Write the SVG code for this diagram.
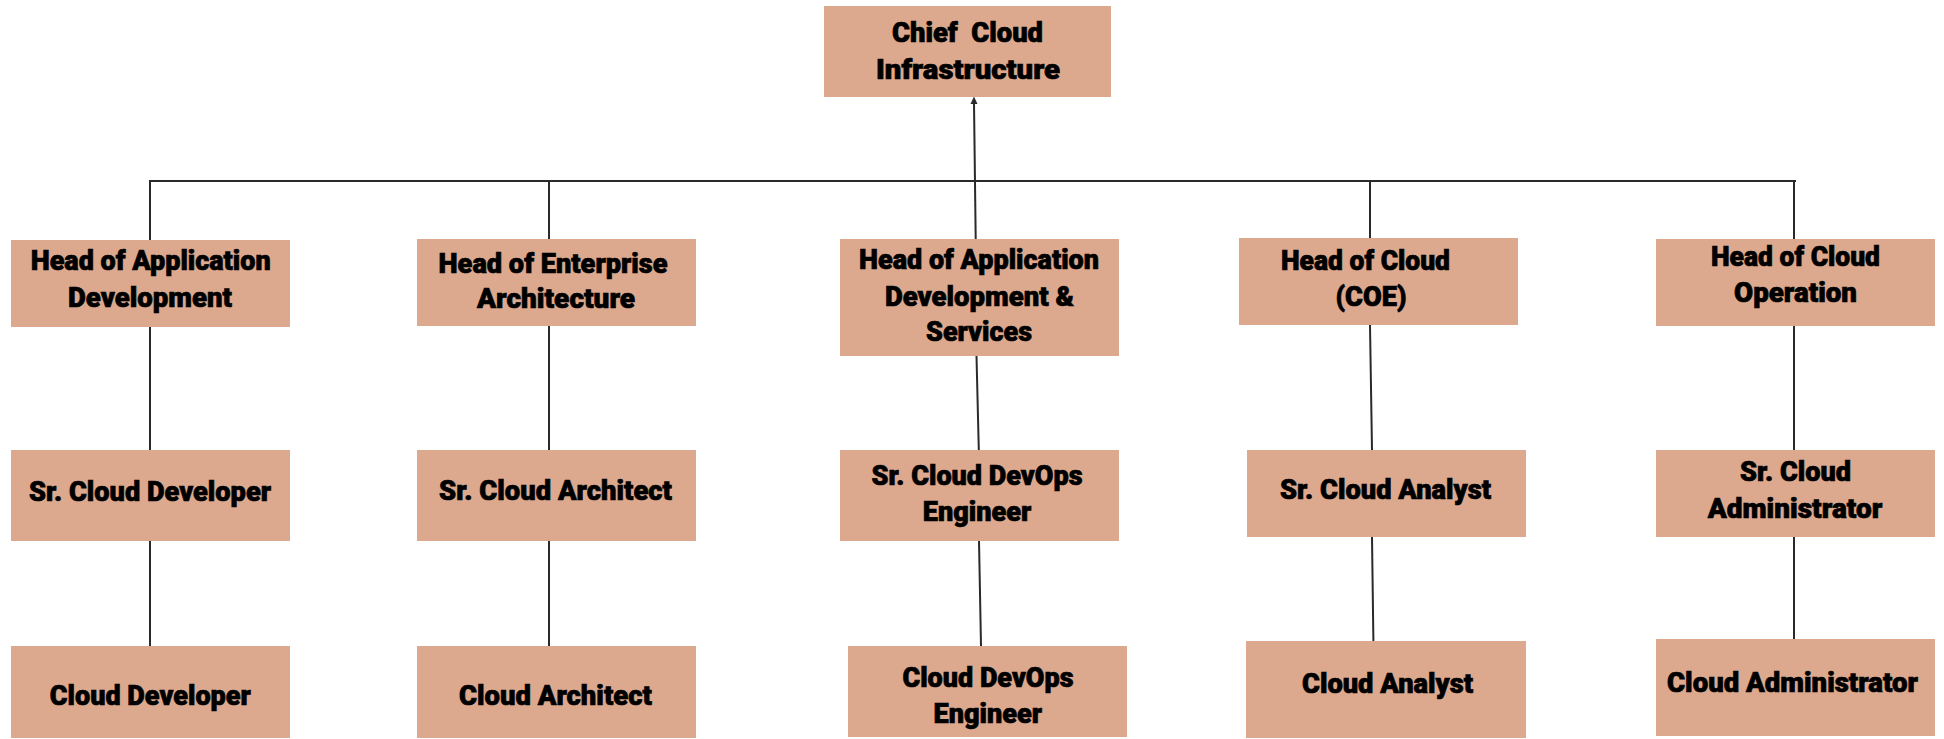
<svg xmlns="http://www.w3.org/2000/svg" width="1944" height="739" viewBox="0 0 1944 739">
<style>
.box{fill:#DCA98F}
.t{font-family:Roboto,"Liberation Sans",sans-serif;font-weight:900;font-size:27px;fill:#000;stroke:#000;stroke-width:0.7;text-anchor:middle}
.c{stroke:#2a2a2a;stroke-width:2;fill:none}
</style>
<rect width="1944" height="739" fill="#fff"/>
<g id="connectors">
<line class="c" x1="975.7" y1="239" x2="974" y2="103"/>
<path d="M970.5,104 L974,96.5 L977.5,104 Z" fill="#2a2a2a"/>
<line class="c" x1="149" y1="181" x2="1796" y2="181"/>
<line class="c" x1="150" y1="181" x2="150" y2="240"/>
<line class="c" x1="549" y1="181" x2="549" y2="239"/>
<line class="c" x1="1370" y1="181" x2="1370" y2="238"/>
<line class="c" x1="1794" y1="181" x2="1794" y2="239"/>
<line class="c" x1="150" y1="327" x2="150" y2="450"/>
<line class="c" x1="150" y1="541" x2="150" y2="646"/>
<line class="c" x1="549" y1="326" x2="549" y2="450"/>
<line class="c" x1="549" y1="541" x2="549" y2="646"/>
<line class="c" x1="976.5" y1="356" x2="978.8" y2="450"/>
<line class="c" x1="979" y1="541" x2="981" y2="646"/>
<line class="c" x1="1370" y1="325" x2="1372" y2="450"/>
<line class="c" x1="1372" y1="537" x2="1373.4" y2="641"/>
<line class="c" x1="1794" y1="326" x2="1794" y2="450"/>
<line class="c" x1="1794" y1="537" x2="1794" y2="639"/>
</g>
<g id="chief">
<rect class="box" x="824" y="6" width="287" height="91"/>
<text class="t" x="967.5" y="41.7" textLength="151" lengthAdjust="spacingAndGlyphs" xml:space="preserve">Chief  Cloud</text>
<text class="t" x="968" y="79" textLength="184" lengthAdjust="spacingAndGlyphs">Infrastructure</text>
</g>
<g id="head-app-dev">
<rect class="box" x="11" y="240" width="279" height="87"/>
<text class="t" x="150.7" y="270" textLength="240" lengthAdjust="spacingAndGlyphs">Head of Application</text>
<text class="t" x="150" y="306.7" textLength="164" lengthAdjust="spacingAndGlyphs">Development</text>
</g>
<g id="head-ent-arch">
<rect class="box" x="417" y="239" width="279" height="87"/>
<text class="t" x="553" y="272.7" textLength="229" lengthAdjust="spacingAndGlyphs">Head of Enterprise</text>
<text class="t" x="556" y="308" textLength="158" lengthAdjust="spacingAndGlyphs">Architecture</text>
</g>
<g id="head-app-dev-services">
<rect class="box" x="840" y="239" width="279" height="117"/>
<text class="t" x="979" y="269" textLength="240" lengthAdjust="spacingAndGlyphs">Head of Application</text>
<text class="t" x="979.5" y="306" textLength="189" lengthAdjust="spacingAndGlyphs">Development &amp;</text>
<text class="t" x="979" y="341" textLength="106" lengthAdjust="spacingAndGlyphs">Services</text>
</g>
<g id="head-cloud-coe">
<rect class="box" x="1239" y="238" width="279" height="87"/>
<text class="t" x="1365.5" y="270" textLength="169" lengthAdjust="spacingAndGlyphs">Head of Cloud</text>
<text class="t" x="1371" y="306" textLength="71" lengthAdjust="spacingAndGlyphs">(COE)</text>
</g>
<g id="head-cloud-op">
<rect class="box" x="1656" y="239" width="279" height="87"/>
<text class="t" x="1795.5" y="265.7" textLength="169" lengthAdjust="spacingAndGlyphs">Head of Cloud</text>
<text class="t" x="1795.5" y="301.7" textLength="123" lengthAdjust="spacingAndGlyphs">Operation</text>
</g>
<g id="sr-cloud-dev">
<rect class="box" x="11" y="450" width="279" height="91"/>
<text class="t" x="150" y="500.7" textLength="242" lengthAdjust="spacingAndGlyphs">Sr. Cloud Developer</text>
</g>
<g id="sr-cloud-arch">
<rect class="box" x="417" y="450" width="279" height="91"/>
<text class="t" x="555.5" y="500" textLength="233" lengthAdjust="spacingAndGlyphs">Sr. Cloud Architect</text>
</g>
<g id="sr-cloud-devops">
<rect class="box" x="840" y="450" width="279" height="91"/>
<text class="t" x="977" y="485" textLength="211" lengthAdjust="spacingAndGlyphs">Sr. Cloud DevOps</text>
<text class="t" x="977" y="521" textLength="108.5" lengthAdjust="spacingAndGlyphs">Engineer</text>
</g>
<g id="sr-cloud-analyst">
<rect class="box" x="1247" y="450" width="279" height="87"/>
<text class="t" x="1385.5" y="499" textLength="211" lengthAdjust="spacingAndGlyphs">Sr. Cloud Analyst</text>
</g>
<g id="sr-cloud-admin">
<rect class="box" x="1656" y="450" width="279" height="87"/>
<text class="t" x="1795.5" y="481" textLength="111" lengthAdjust="spacingAndGlyphs">Sr. Cloud</text>
<text class="t" x="1795" y="517.7" textLength="174.5" lengthAdjust="spacingAndGlyphs">Administrator</text>
</g>
<g id="cloud-dev">
<rect class="box" x="11" y="646" width="279" height="92"/>
<text class="t" x="150.3" y="705" textLength="201" lengthAdjust="spacingAndGlyphs">Cloud Developer</text>
</g>
<g id="cloud-arch">
<rect class="box" x="417" y="646" width="279" height="92"/>
<text class="t" x="555.5" y="705" textLength="193" lengthAdjust="spacingAndGlyphs">Cloud Architect</text>
</g>
<g id="cloud-devops">
<rect class="box" x="848" y="646" width="279" height="91"/>
<text class="t" x="988" y="686.7" textLength="171" lengthAdjust="spacingAndGlyphs">Cloud DevOps</text>
<text class="t" x="987.8" y="722.7" textLength="108.5" lengthAdjust="spacingAndGlyphs">Engineer</text>
</g>
<g id="cloud-analyst">
<rect class="box" x="1246" y="641" width="280" height="97"/>
<text class="t" x="1387.5" y="692.7" textLength="171" lengthAdjust="spacingAndGlyphs">Cloud Analyst</text>
</g>
<g id="cloud-admin">
<rect class="box" x="1656" y="639" width="279" height="97"/>
<text class="t" x="1792.5" y="691.7" textLength="251" lengthAdjust="spacingAndGlyphs">Cloud Administrator</text>
</g>
</svg>
